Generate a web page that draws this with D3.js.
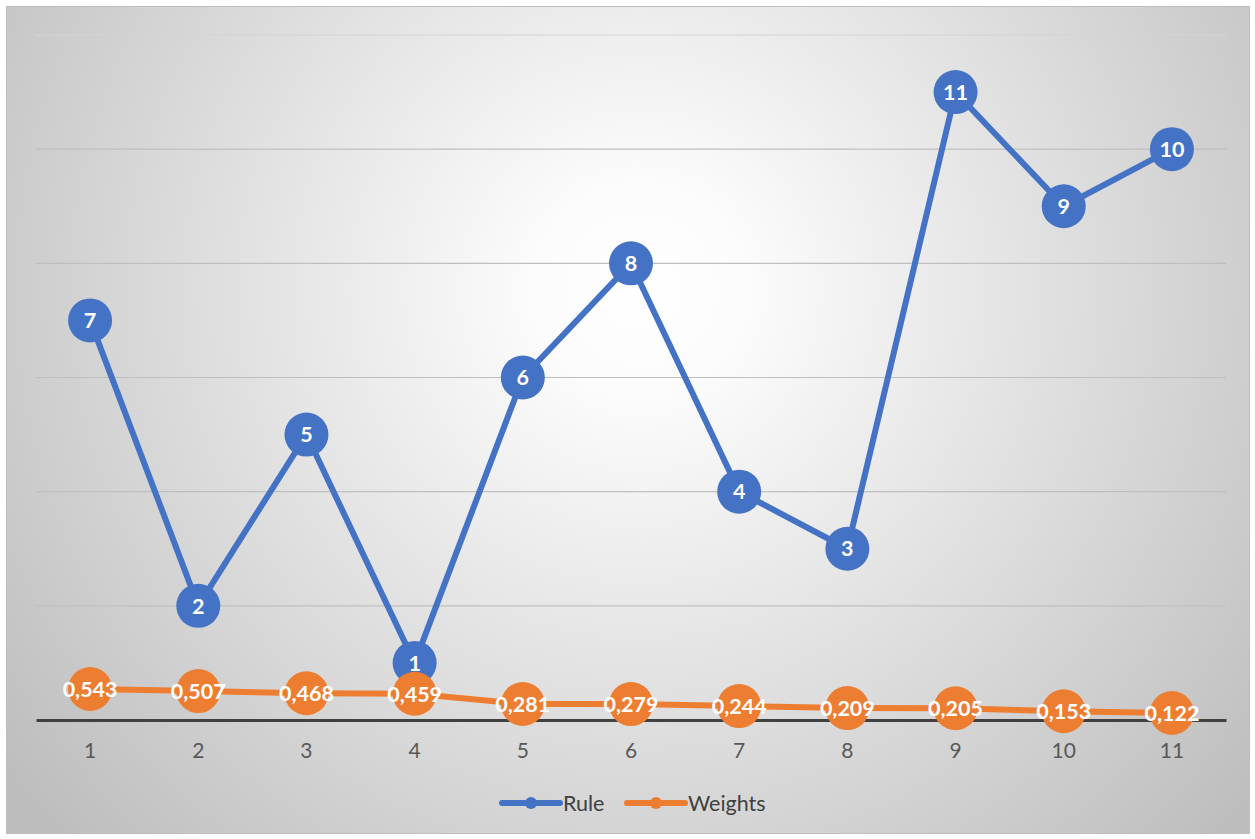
<!DOCTYPE html>
<html><head><meta charset="utf-8">
<script src="https://cdn.jsdelivr.net/npm/d3@7"></script>
<style>body{margin:0;background:#fff}svg{display:block}</style>
</head><body>
<script>
const categories = ["1","2","3","4","5","6","7","8","9","10","11"];
const ruleValues = [7,2,5,1,6,8,4,3,11,9,10];
const weightValues = [0.543,0.507,0.468,0.459,0.281,0.279,0.244,0.209,0.205,0.153,0.122];
const weightLabels = ["0,543","0,507","0,468","0,459","0,281","0,279","0,244","0,209","0,205","0,153","0,122"];
const yTicks = [0,2,4,6,8,10,12];
const seriesNames = ["Rule","Weights"];
const colors = ["#4472C4","#ED7D31"];

(function(){
const W=1255,H=839;
const FONT="Lato, 'Open Sans', sans-serif";
const svg=d3.select("body").append("svg").attr("width",W).attr("height",H);
const defs=svg.append("defs");
const g=defs.append("radialGradient").attr("id","bg").attr("gradientUnits","userSpaceOnUse")
  .attr("cx",640).attr("cy",290).attr("r",800);
g.append("stop").attr("offset","0").attr("stop-color","#ffffff");
g.append("stop").attr("offset","0.14").attr("stop-color","#fbfbfb");
g.append("stop").attr("offset","1").attr("stop-color","#bdbdbd");
svg.append("rect").attr("x",6.5).attr("y",6.5).attr("width",1243).attr("height",827)
  .attr("fill","url(#bg)").attr("stroke","#bfbfbf").attr("stroke-width",1);

const mLeft=36,mRight=1226,mTop=35,mBottom=720;
const x=d3.scaleBand().domain(categories).range([mLeft,mRight]);
const y=d3.scaleLinear().domain([0,12]).range([mBottom,mTop]);
const cx=c=>x(c)+x.bandwidth()/2;

svg.append("g").selectAll("line").data(yTicks.filter(t=>t>0)).join("line")
  .attr("x1",mLeft).attr("x2",mRight).attr("y1",d=>y(d)).attr("y2",d=>y(d))
  .attr("stroke",d=>d===12?"#d4d4d4":"#bfbfbf").attr("stroke-width",1.2);

const xa=svg.append("g").attr("transform",`translate(0,${mBottom})`)
  .call(d3.axisBottom(x).tickSize(0).tickPadding(23));
xa.select(".domain").attr("stroke","#404040").attr("stroke-width",3);
xa.selectAll("text").attr("font-family",FONT).attr("font-size",21).attr("fill","#595959");

function drawSeries(vals,labels,color){
  const line=d3.line().x((d,i)=>cx(categories[i])).y(d=>y(d));
  svg.append("path").datum(vals).attr("d",line).attr("fill","none")
    .attr("stroke",color).attr("stroke-width",6).attr("stroke-linejoin","round");
  const gg=svg.append("g");
  gg.selectAll("circle").data(vals).join("circle")
    .attr("cx",(d,i)=>cx(categories[i])).attr("cy",d=>y(d)).attr("r",22).attr("fill",color);
  gg.selectAll("text").data(vals).join("text")
    .attr("x",(d,i)=>cx(categories[i])).attr("y",d=>y(d)).attr("dy","0.36em")
    .attr("text-anchor","middle").attr("font-family",FONT)
    .attr("font-weight","bold").attr("font-size",21.5).attr("fill","#fff")
    .text((d,i)=>labels[i]);
}
drawSeries(ruleValues,ruleValues.map(String),colors[0]);
drawSeries(weightValues,weightLabels,colors[1]);

const leg=svg.append("g").attr("font-family",FONT).attr("font-size",21.5).attr("fill","#404040");
const legX=[502,627];
seriesNames.forEach((n,i)=>{
  const lx=legX[i], ly=803;
  leg.append("line").attr("x1",lx).attr("x2",lx+58).attr("y1",ly).attr("y2",ly)
    .attr("stroke",colors[i]).attr("stroke-width",6).attr("stroke-linecap","round");
  leg.append("circle").attr("cx",lx+29).attr("cy",ly).attr("r",6).attr("fill",colors[i]);
  leg.append("text").attr("x",lx+61).attr("y",ly).attr("dy","0.36em").text(n);
});
})();
</script>
</body></html>
